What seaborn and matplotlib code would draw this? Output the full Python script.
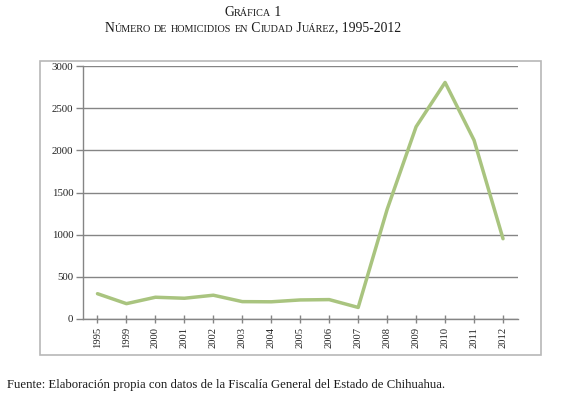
import matplotlib
matplotlib.use("Agg")
import matplotlib.pyplot as plt
import seaborn as sns
import pandas as pd
from matplotlib.offsetbox import TextArea, HPacker, AnnotationBbox
from matplotlib.patches import Rectangle

# ---- data ----
years = ["1995", "1999", "2000", "2001", "2002", "2003", "2004", "2005",
         "2006", "2007", "2008", "2009", "2010", "2011", "2012"]
homicidios = [300, 182, 258, 246, 282, 206, 204, 226, 230, 137,
              1300, 2280, 2805, 2120, 952]
yticks = [0, 500, 1000, 1500, 2000, 2500, 3000]

title1 = "Gráfica 1"
title2 = "Número de homicidios en Ciudad Juárez, 1995-2012"
source = "Fuente: Elaboración propia con datos de la Fiscalía General del Estado de Chihuahua."

sns.set_style("white")
plt.rcParams['font.family'] = ['Liberation Serif', 'DejaVu Serif']

W, H = 580, 398
fig = plt.figure(figsize=(W / 100, H / 100), dpi=100)

def px(x0, y0, x1, y1):
    return [x0 / W, 1 - y1 / H, (x1 - x0) / W, (y1 - y0) / H]

# outer chart frame
fig.add_artist(Rectangle((40 / W, 1 - 355 / H), (541 - 40) / W, (355 - 61) / H,
                         transform=fig.transFigure, fill=False,
                         edgecolor="#b8b8b8", linewidth=1.2))

ax = fig.add_axes(px(83, 66, 517.5, 319))
df = pd.DataFrame({"year": years, "value": homicidios})
sns.lineplot(data=df, x="year", y="value", ax=ax, color="#a9c47f",
             linewidth=2.5, sort=False)

ax.set_xlim(-0.5, len(years) - 0.5)
ax.set_ylim(0, 3000)
ax.set_yticks(yticks)
ax.set_yticklabels([str(v) for v in yticks], fontsize=7.8, color="#222222")
ax.set_xticks(range(len(years)))
ax.set_xticklabels(years, rotation=90, fontsize=7.6, color="#222222")
ax.set_xlabel("")
ax.set_ylabel("")

ax.grid(axis="y", color="#858585", linewidth=1.0)
ax.set_axisbelow(True)
for s in ["top", "right"]:
    ax.spines[s].set_visible(False)
for s in ["left", "bottom"]:
    ax.spines[s].set_color("#858585")
    ax.spines[s].set_linewidth(1.0)
ax.tick_params(axis="y", direction="out", length=5, width=1, color="#858585",
               left=True, pad=2)
ax.tick_params(axis="x", direction="inout", length=6, width=1, color="#858585",
               bottom=True, pad=3)


def small_caps(text, big, small, y_px, x_px):
    runs = []
    for ch in text:
        if ch.islower():
            key, c = small, ch.upper()
        else:
            key, c = big, ch
        if runs and runs[-1][0] == key:
            runs[-1][1] += c
        else:
            runs.append([key, c])
    areas = [TextArea(t, textprops=dict(fontsize=s, color="#1a1a1a",
                                        family=['Liberation Serif', 'DejaVu Serif']))
             for s, t in runs]
    box = HPacker(children=areas, align="baseline", pad=0, sep=0)
    ab = AnnotationBbox(box, (x_px / W, 1 - y_px / H), xycoords="figure fraction",
                        box_alignment=(0.5, 0.5), frameon=False, pad=0)
    fig.add_artist(ab)


small_caps(title1, 9.8, 7.3, 12, 253)
small_caps(title2, 9.8, 7.3, 28, 253)

fig.text(7 / W, 1 - 385 / H, source, fontsize=9.2, color="#1a1a1a",
         ha="left", va="center")

fig.savefig("out.png", dpi=100, facecolor="white")
